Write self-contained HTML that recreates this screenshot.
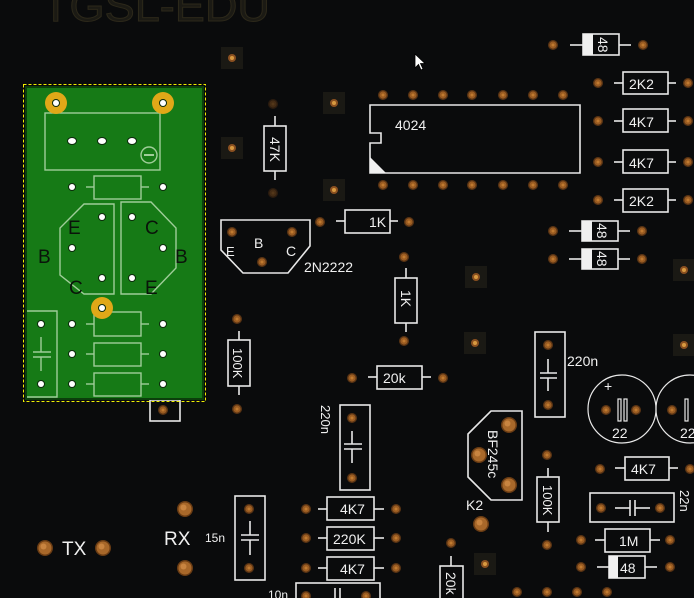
<!DOCTYPE html>
<html><head><meta charset="utf-8"><style>
html,body{margin:0;padding:0;background:#0a0b0c;}
svg{display:block}
text{font-family:"Liberation Sans",sans-serif;}
</style></head><body>
<svg width="694" height="598" viewBox="0 0 694 598" xmlns="http://www.w3.org/2000/svg">
<defs>
<g id="p"><circle r="5" fill="#5a3414"/><circle r="3.6" fill="#9a5c22"/><circle r="1.5" fill="#c07a30"/></g>
<g id="P"><circle r="8" fill="#6a3c14"/><circle r="6.5" fill="#a8682a"/><circle cx="-1.5" cy="-1.5" r="3" fill="#c88440"/></g>
<g id="sq"><rect x="-11" y="-11" width="22" height="22" fill="#1a1914"/><circle r="4" fill="#8a5020"/><circle r="2" fill="#d89a40"/></g>
<g id="h"><circle r="4" fill="#0c2a0c"/><circle r="3" fill="#fff"/></g>
<g id="hs"><ellipse rx="5" ry="4" fill="#0c2a0c"/><ellipse rx="4" ry="3" fill="#fff"/></g>
</defs>
<rect width="694" height="598" fill="#0a0b0c"/>
<text x="42" y="21" font-size="44" fill="#1b1a14" stroke="#2c281a" stroke-width="1" textLength="228" lengthAdjust="spacingAndGlyphs">TGSL-EDU</text>

<use href="#sq" x="232" y="58"/><use href="#sq" x="232" y="148"/>
<use href="#sq" x="334" y="103"/><use href="#sq" x="334" y="190"/>
<use href="#sq" x="476" y="277"/><use href="#sq" x="475" y="343"/>
<use href="#sq" x="684" y="270"/><use href="#sq" x="684" y="345"/>
<use href="#sq" x="485" y="564"/>

<g fill="none" stroke="#e8e8e8" stroke-width="1.6">
<rect x="264" y="126" width="22" height="45"/><line x1="275" y1="116" x2="275" y2="126"/><line x1="275" y1="171" x2="275" y2="180"/>
<polygon points="221,220 310,220 310,246 288,273 243,273 221,250"/>
<rect x="345" y="210" width="45" height="23"/><line x1="336" y1="221" x2="345" y2="221"/><line x1="390" y1="221" x2="398" y2="221"/>
<path d="M370,105 H580 V173 H370 V143 H381 V133 H370 Z"/>
<rect x="583" y="34" width="36" height="21"/><line x1="570" y1="45" x2="583" y2="45"/><line x1="619" y1="45" x2="631" y2="45"/>
<rect x="623" y="72" width="45" height="22"/><line x1="614" y1="83" x2="623" y2="83"/><line x1="668" y1="83" x2="676" y2="83"/>
<rect x="623" y="109" width="45" height="23"/><line x1="614" y1="121" x2="623" y2="121"/><line x1="668" y1="121" x2="676" y2="121"/>
<rect x="623" y="150" width="45" height="23"/><line x1="614" y1="162" x2="623" y2="162"/><line x1="668" y1="162" x2="676" y2="162"/>
<rect x="623" y="189" width="45" height="23"/><line x1="614" y1="200" x2="623" y2="200"/><line x1="668" y1="200" x2="676" y2="200"/>
<rect x="582" y="221" width="36" height="20"/><line x1="569" y1="231" x2="582" y2="231"/><line x1="618" y1="231" x2="630" y2="231"/>
<rect x="582" y="249" width="36" height="20"/><line x1="569" y1="259" x2="582" y2="259"/><line x1="618" y1="259" x2="630" y2="259"/>
<rect x="395" y="278" width="22" height="45"/><line x1="406" y1="268" x2="406" y2="278"/><line x1="406" y1="323" x2="406" y2="332"/>
<rect x="228" y="340" width="22" height="46"/><line x1="239" y1="331" x2="239" y2="340"/><line x1="239" y1="386" x2="239" y2="395"/>
<rect x="377" y="366" width="45" height="23"/><line x1="368" y1="377" x2="377" y2="377"/><line x1="422" y1="377" x2="431" y2="377"/>
<rect x="535" y="332" width="30" height="85"/><line x1="548" y1="359" x2="548" y2="373"/><line x1="540" y1="373" x2="557" y2="373"/><line x1="540" y1="378" x2="557" y2="378"/><line x1="548" y1="378" x2="548" y2="391"/>
<rect x="340" y="405" width="30" height="85"/><line x1="352" y1="431" x2="352" y2="444"/><line x1="344" y1="444" x2="362" y2="444"/><line x1="344" y1="449" x2="362" y2="449"/><line x1="352" y1="449" x2="352" y2="463"/>
<polygon points="491,411 522,411 522,500 491,500 468,477 468,434"/>
<rect x="537" y="477" width="22" height="45"/><line x1="548" y1="468" x2="548" y2="477"/><line x1="548" y1="522" x2="548" y2="532"/>
<circle cx="622" cy="409" r="34" stroke-width="1.2"/><circle cx="690" cy="409" r="34" stroke-width="1.2"/>
<rect x="618" y="399" width="3" height="22" stroke-width="1.2"/><rect x="624" y="399" width="3" height="22" stroke-width="1.2"/>
<rect x="685" y="399" width="3" height="22" stroke-width="1.2"/>
<rect x="625" y="457" width="44" height="23"/><line x1="615" y1="468" x2="625" y2="468"/><line x1="669" y1="468" x2="678" y2="468"/>
<rect x="590" y="493" width="84" height="29"/><line x1="615" y1="508" x2="630" y2="508"/><line x1="630" y1="500" x2="630" y2="516"/><line x1="635" y1="500" x2="635" y2="516"/><line x1="635" y1="508" x2="650" y2="508"/>
<rect x="605" y="529" width="45" height="23"/><line x1="595" y1="540" x2="605" y2="540"/><line x1="650" y1="540" x2="660" y2="540"/>
<rect x="609" y="556" width="36" height="22"/><line x1="597" y1="567" x2="609" y2="567"/><line x1="645" y1="567" x2="657" y2="567"/>
<rect x="440" y="566" width="23" height="40"/><line x1="451" y1="556" x2="451" y2="566"/>
<rect x="235" y="496" width="30" height="84"/><line x1="250" y1="521" x2="250" y2="535"/><line x1="241" y1="535" x2="259" y2="535"/><line x1="241" y1="540" x2="259" y2="540"/><line x1="250" y1="540" x2="250" y2="555"/>
<rect x="327" y="497" width="47" height="23"/><line x1="318" y1="509" x2="327" y2="509"/><line x1="374" y1="509" x2="384" y2="509"/>
<rect x="327" y="527" width="47" height="23"/><line x1="318" y1="538" x2="327" y2="538"/><line x1="374" y1="538" x2="384" y2="538"/>
<rect x="327" y="557" width="47" height="23"/><line x1="318" y1="568" x2="327" y2="568"/><line x1="374" y1="568" x2="384" y2="568"/>
<rect x="296" y="583" width="84" height="20"/><line x1="335" y1="588" x2="335" y2="598"/><line x1="340" y1="588" x2="340" y2="598"/>
<rect x="150" y="400" width="30" height="21"/>
</g>
<g fill="#f0f0f0">
<polygon points="370,157 370,173 386,173"/>
<rect x="583" y="34" width="10" height="21"/>
<rect x="582" y="221" width="10" height="20"/>
<rect x="582" y="249" width="10" height="20"/>
<rect x="609" y="556" width="9" height="22"/>
</g>

<use href="#p" x="273" y="104" opacity="0.4"/><use href="#p" x="273" y="193" opacity="0.4"/>
<use href="#p" x="232" y="232"/><use href="#p" x="292" y="232"/><use href="#p" x="262" y="262"/>
<use href="#p" x="320" y="222"/><use href="#p" x="409" y="222"/>
<g>
<use href="#p" x="383" y="95"/><use href="#p" x="413" y="95"/><use href="#p" x="443" y="95"/><use href="#p" x="472" y="95"/><use href="#p" x="503" y="95"/><use href="#p" x="533" y="95"/><use href="#p" x="563" y="95"/>
<use href="#p" x="383" y="185"/><use href="#p" x="413" y="185"/><use href="#p" x="443" y="185"/><use href="#p" x="472" y="185"/><use href="#p" x="503" y="185"/><use href="#p" x="533" y="185"/><use href="#p" x="563" y="185"/>
</g>
<use href="#p" x="553" y="45"/><use href="#p" x="643" y="45"/>
<use href="#p" x="598" y="83"/><use href="#p" x="688" y="83"/>
<use href="#p" x="598" y="121"/><use href="#p" x="688" y="121"/>
<use href="#p" x="598" y="162"/><use href="#p" x="688" y="162"/>
<use href="#p" x="598" y="200"/><use href="#p" x="688" y="200"/>
<use href="#p" x="553" y="231"/><use href="#p" x="642" y="231"/>
<use href="#p" x="553" y="259"/><use href="#p" x="642" y="259"/>
<use href="#p" x="404" y="257"/><use href="#p" x="404" y="341"/>
<use href="#p" x="237" y="319"/><use href="#p" x="237" y="409"/>
<use href="#p" x="352" y="378"/><use href="#p" x="443" y="378"/>
<use href="#p" x="548" y="345"/><use href="#p" x="548" y="405"/>
<use href="#p" x="352" y="418"/><use href="#p" x="352" y="478"/>
<use href="#P" x="509" y="425"/><use href="#P" x="479" y="455"/><use href="#P" x="509" y="485"/>
<use href="#P" x="481" y="524"/>
<use href="#p" x="547" y="455"/><use href="#p" x="547" y="545"/>
<use href="#p" x="606" y="410"/><use href="#p" x="636" y="410"/><use href="#p" x="672" y="410"/>
<use href="#p" x="600" y="469"/><use href="#p" x="690" y="469"/>
<use href="#p" x="601" y="508"/><use href="#p" x="660" y="508"/>
<use href="#p" x="581" y="540"/><use href="#p" x="670" y="540"/>
<use href="#p" x="581" y="567"/><use href="#p" x="670" y="567"/>
<use href="#p" x="517" y="592"/><use href="#p" x="547" y="592"/><use href="#p" x="577" y="592"/><use href="#p" x="607" y="592"/>
<use href="#p" x="451" y="543"/>
<use href="#p" x="249" y="509"/><use href="#p" x="249" y="568"/>
<use href="#p" x="306" y="509"/><use href="#p" x="396" y="509"/>
<use href="#p" x="306" y="538"/><use href="#p" x="396" y="538"/>
<use href="#p" x="306" y="568"/><use href="#p" x="396" y="568"/>
<use href="#p" x="306" y="596"/><use href="#p" x="366" y="596"/>
<use href="#P" x="185" y="509"/><use href="#P" x="185" y="568"/>
<use href="#P" x="45" y="548"/><use href="#P" x="103" y="548"/>
<use href="#p" x="163" y="410"/>

<g fill="#f0f0f0" font-size="14">
<text x="395" y="130">4024</text>
<text x="0" y="0" transform="translate(270,137) rotate(90)" font-size="14">47K</text>
<text x="254" y="248">B</text>
<text x="286" y="256">C</text>
<text x="226" y="256" font-size="13">E</text>
<text x="304" y="272">2N2222</text>
<text x="369" y="227">1K</text>
<text x="0" y="0" transform="translate(401,290) rotate(90)">1K</text>
<text x="0" y="0" transform="translate(233,348) rotate(90)" font-size="13">100K</text>
<text x="383" y="383">20k</text>
<text x="567" y="366">220n</text>
<text x="0" y="0" transform="translate(321,405) rotate(90)" font-size="13">220n</text>
<text x="0" y="0" transform="translate(488,430) rotate(90)" font-size="14">BF245c</text>
<text x="466" y="510">K2</text>
<text x="0" y="0" transform="translate(543,485) rotate(90)" font-size="13">100K</text>
<text x="604" y="391" font-size="14">+</text>
<text x="612" y="438">22</text>
<text x="680" y="438">22</text>
<text x="631" y="474">4K7</text>
<text x="0" y="0" transform="translate(680,490) rotate(90)" font-size="13">22n</text>
<text x="619" y="546">1M</text>
<text x="620" y="573">48</text>
<text x="0" y="0" transform="translate(446,572) rotate(90)" font-size="14">20k</text>
<text x="205" y="542" font-size="12">15n</text>
<text x="164" y="545" font-size="19">RX</text>
<text x="62" y="555" font-size="19">TX</text>
<text x="340" y="514">4K7</text>
<text x="333" y="544">220K</text>
<text x="340" y="574">4K7</text>
<text x="268" y="599" font-size="12">10n</text>
<text x="629" y="89">2K2</text>
<text x="629" y="127">4K7</text>
<text x="629" y="168">4K7</text>
<text x="629" y="206">2K2</text>
<text x="0" y="0" transform="translate(598,37) rotate(90)" font-size="14">48</text>
<text x="0" y="0" transform="translate(597,223) rotate(90)" font-size="14">48</text>
<text x="0" y="0" transform="translate(597,251) rotate(90)" font-size="14">48</text>
</g>

<rect x="23.5" y="84.5" width="182" height="317" fill="none" stroke="#f0f000" stroke-width="1" stroke-dasharray="3,2"/>
<rect x="25" y="86" width="179" height="314" fill="#0b3f0b"/>
<rect x="27" y="88" width="175" height="310" fill="#167a16"/>
<g fill="none" stroke="#b8dcb0" stroke-width="1.4" opacity="0.85">
<rect x="45" y="113" width="115" height="57"/>
<circle cx="149" cy="155" r="8"/><line x1="144" y1="155" x2="154" y2="155" stroke-width="2"/>
<rect x="94" y="176" width="47" height="23"/><line x1="86" y1="187" x2="94" y2="187"/><line x1="141" y1="187" x2="149" y2="187"/>
<polygon points="114,204 84,204 60,228 60,275 84,294 114,294"/>
<polygon points="121,202 151,202 176,228 176,268 151,294 121,294"/>
<path d="M27,311 H57 V397 H27"/>
<line x1="41" y1="337" x2="41" y2="352"/><line x1="33" y1="352" x2="51" y2="352"/><line x1="33" y1="357" x2="51" y2="357"/><line x1="41" y1="357" x2="41" y2="371"/>
<rect x="94" y="312" width="47" height="24"/><line x1="86" y1="324" x2="94" y2="324"/><line x1="141" y1="324" x2="149" y2="324"/>
<rect x="94" y="343" width="47" height="23"/><line x1="86" y1="354" x2="94" y2="354"/><line x1="141" y1="354" x2="149" y2="354"/>
<rect x="94" y="373" width="47" height="23"/><line x1="86" y1="384" x2="94" y2="384"/><line x1="141" y1="384" x2="149" y2="384"/>
</g>
<circle cx="56" cy="103" r="11" fill="#e0a818"/><circle cx="163" cy="103" r="11" fill="#e0a818"/><circle cx="102" cy="308" r="11" fill="#e0a818"/>
<use href="#h" x="56" y="103"/><use href="#h" x="163" y="103"/><use href="#h" x="102" y="308"/>
<use href="#hs" x="72" y="141"/><use href="#hs" x="102" y="141"/><use href="#hs" x="132" y="141"/>
<use href="#h" x="72" y="187"/><use href="#h" x="163" y="187"/>
<use href="#h" x="102" y="217"/><use href="#h" x="72" y="248"/><use href="#h" x="102" y="278"/>
<use href="#h" x="132" y="217"/><use href="#h" x="163" y="248"/><use href="#h" x="132" y="278"/>
<use href="#h" x="41" y="324"/><use href="#h" x="41" y="384"/>
<use href="#h" x="72" y="324"/><use href="#h" x="163" y="324"/>
<use href="#h" x="72" y="354"/><use href="#h" x="163" y="354"/>
<use href="#h" x="72" y="384"/><use href="#h" x="163" y="384"/>
<g fill="#0a140a" font-size="19">
<text x="68" y="234">E</text><text x="38" y="263">B</text><text x="69" y="294">C</text>
<text x="145" y="234">C</text><text x="175" y="263">B</text><text x="145" y="294">E</text>
</g>

<path d="M415,54 L415,68 L418.5,64.5 L421,70 L423,69 L420.5,63.5 L425,63.5 Z" fill="#fff" stroke="#000" stroke-width="0.8"/>
</svg>
</body></html>
